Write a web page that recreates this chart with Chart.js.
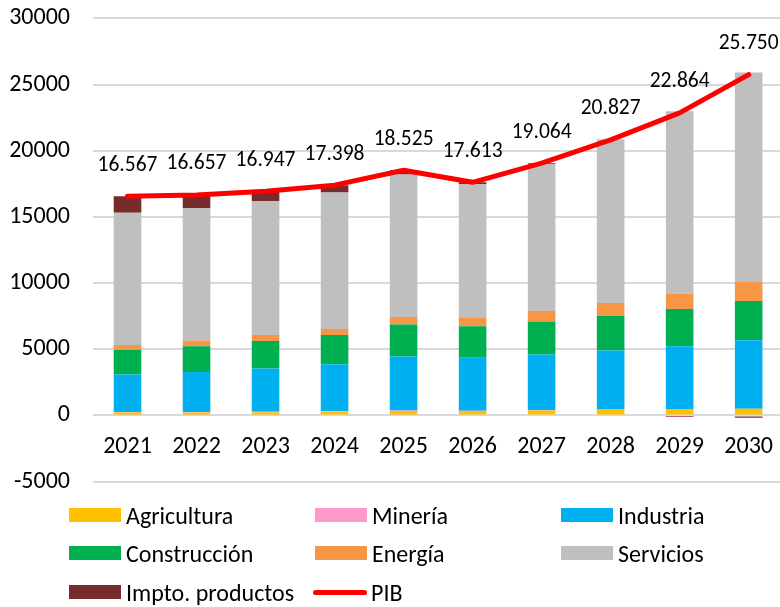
<!DOCTYPE html>
<html>
<head>
<meta charset="utf-8">
<script src="https://cdn.jsdelivr.net/npm/chart.js@4.4.1/dist/chart.umd.min.js"></script>
<style>
  html, body { margin: 0; padding: 0; background: #fff; overflow: hidden; }
  body { width: 780px; height: 607px; position: relative; font-family: Carlito, Calibri, "Liberation Sans Narrow", "Open Sans", sans-serif; }
  #wrap { position: absolute; left: 0; top: -19px; width: 790px; height: 538px; }
  #legend { position: absolute; left: 0; top: 0; width: 780px; height: 607px; pointer-events: none; }
  .item { position: absolute; display: flex; align-items: center; font-size: 24px; color: #000; height: 28px; white-space: nowrap; }
  .swatch { width: 52px; height: 14px; margin-right: 5px; }
  .lineSwatch { width: 54px; height: 5px; border-radius: 3px; margin-right: 4px; }
</style>
</head>
<body>
<div id="wrap"><canvas id="chart"></canvas></div>
<div id="legend"></div>
<script>
const FONT = 'Carlito, Calibri, "Liberation Sans Narrow", "Open Sans", sans-serif';

const years = ['2021', '2022', '2023', '2024', '2025', '2026', '2027', '2028', '2029', '2030'];
const agricultura = [230, 230, 240, 300, 340, 330, 380, 420, 450, 500];
const mineria = [30, 30, 30, 30, 30, 30, 30, 30, -50, 0];
const industria = [2840, 3030, 3280, 3540, 4085, 3990, 4195, 4457, 4782, 5185];
const construccion = [1850, 1940, 2080, 2210, 2415, 2393, 2492, 2613, 2816, 2967];
const energia = [380, 430, 450, 450, 575, 627, 800, 981, 1163, 1435];
const servicios = [9990, 9990, 10120, 10320, 10751, 10117, 11099, 12307, 13764, 15832];
const impuestos = [1247, 1007, 747, 548, 329, 126, 68, 19, -61, -169];
const pib = [16567, 16657, 16947, 17398, 18525, 17613, 19064, 20827, 22864, 25750];
const yTicks = [-5000, 0, 5000, 10000, 15000, 20000, 25000, 30000];

function barSet(label, data, color) {
  return { type: 'bar', label: label, data: data, backgroundColor: color, stack: 'va', order: 1,
           categoryPercentage: 1, barPercentage: 0.4 };
}

// miles con punto
function fmt(v) {
  return String(v).replace(/\B(?=(\d{3})+(?!\d))/g, '.');
}

const pibLabels = {
  id: 'pibLabels',
  afterDatasetsDraw(chart) {
    const idx = chart.data.datasets.findIndex(d => d.type === 'line');
    const meta = chart.getDatasetMeta(idx);
    const ctx = chart.ctx;
    ctx.save();
    ctx.font = '21.5px ' + FONT;
    ctx.fillStyle = '#000';
    ctx.textAlign = 'center';
    ctx.textBaseline = 'middle';
    meta.data.forEach((pt, i) => {
      ctx.fillText(fmt(pib[i]), pt.x, pt.y - 31);
    });
    ctx.restore();
  }
};

const chart = new Chart(document.getElementById('chart'), {
  data: {
    labels: years,
    datasets: [
      { type: 'line', label: 'PIB', data: pib, borderColor: '#FF0000', backgroundColor: '#FF0000',
        borderWidth: 5, pointRadius: 0, tension: 0, stack: 'pib', order: 0,
        borderCapStyle: 'round', borderJoinStyle: 'round' },
      barSet('Agricultura', agricultura, '#FFC000'),
      barSet('Minería', mineria, '#FF99CC'),
      barSet('Industria', industria, '#00B0F0'),
      barSet('Construcción', construccion, '#00B050'),
      barSet('Energía', energia, '#F79646'),
      barSet('Servicios', servicios, '#BFBFBF'),
      barSet('Impto. productos', impuestos, '#772B2B')
    ]
  },
  options: {
    responsive: true,
    maintainAspectRatio: false,
    animation: false,
    layout: { padding: 0 },
    plugins: { legend: { display: false }, tooltip: { enabled: false } },
    scales: {
      x: {
        stacked: true,
        position: { y: 0 },
        grid: { display: false, drawTicks: false },
        border: { display: false },
        ticks: { color: '#000', font: { family: FONT, size: 24 }, padding: 17, maxRotation: 0 }
      },
      y: {
        stacked: true,
        min: -5000,
        max: 30000,
        afterBuildTicks(scale) { scale.ticks = yTicks.map(v => ({ value: v })); },
        afterFit(scale) { scale.width = 93; },
        grid: { color: '#D9D9D9', lineWidth: 2, drawTicks: false },
        border: { display: false },
        ticks: { color: '#000', font: { family: FONT, size: 24 }, padding: 23, callback: v => String(v) }
      }
    }
  },
  plugins: [pibLabels]
});

// leyenda en tres columnas
const legendCols = [69, 315, 561];
const legendRows = [515, 553, 592];
const order = ['Agricultura', 'Minería', 'Industria', 'Construcción', 'Energía', 'Servicios', 'Impto. productos', 'PIB'];
const legend = document.getElementById('legend');
order.forEach((name, i) => {
  const ds = chart.data.datasets.find(d => d.label === name);
  const el = document.createElement('div');
  el.className = 'item';
  el.style.left = (ds.type === 'line' ? legendCols[i % 3] - 2 : legendCols[i % 3]) + 'px';
  el.style.top = (legendRows[Math.floor(i / 3)] - 14) + 'px';
  const sw = document.createElement('span');
  sw.className = ds.type === 'line' ? 'lineSwatch' : 'swatch';
  sw.style.background = ds.type === 'line' ? ds.borderColor : ds.backgroundColor;
  el.appendChild(sw);
  el.appendChild(document.createTextNode(name));
  legend.appendChild(el);
});
</script>
</body>
</html>
